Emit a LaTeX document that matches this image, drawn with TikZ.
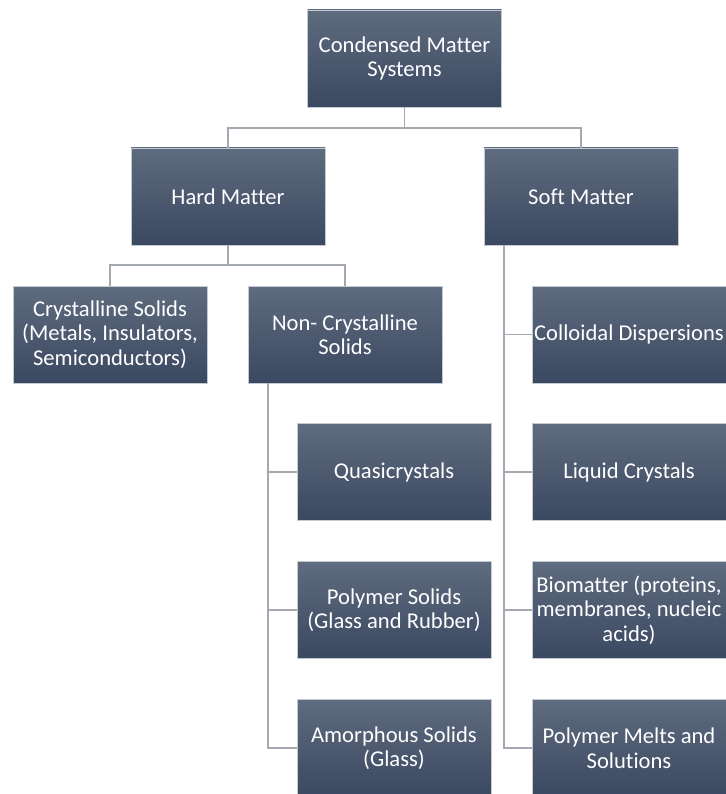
\documentclass[tikz,border=0pt]{standalone}
\usepackage{fontspec}
\setmainfont{Carlito}[Ligatures={NoCommon}]
\definecolor{boxtop}{HTML}{5F6B7E}
\definecolor{boxbot}{HTML}{3A4861}
\definecolor{boxedge}{HTML}{C5CAD2}
\definecolor{conn}{HTML}{A3A8B1}
\begin{document}
\begin{tikzpicture}[x=1pt,y=-1pt,
  cbox/.style={rectangle, minimum width=194pt, minimum height=97pt, inner sep=1pt,
    top color=boxtop, bottom color=boxbot, draw=boxedge, line width=0.6pt,
    text=white, align=center, font=\fontsize{22.6}{24.5}\selectfont},
  link/.style={draw=conn, line width=1.6pt}]
\useasboundingbox (0,0) rectangle (725,794);
\node[cbox] (top) at (404.5,58.5) {Condensed Matter\\Systems};
\node[cbox] (hard) at (228,196.5) {Hard Matter};
\node[cbox] (soft) at (581,196.5) {Soft Matter};
\node[cbox] (cry) at (110,334.5) {Crystalline Solids\\(Metals, Insulators,\\Semiconductors)};
\node[cbox] (non) at (345,334.5) {Non- Crystalline\\Solids};
\node[cbox] (qua) at (394,472) {Quasicrystals};
\node[cbox] (pol) at (394,610) {Polymer Solids\\(Glass and Rubber)};
\node[cbox] (amo) at (394,748) {Amorphous Solids\\(Glass)};
\node[cbox] (col) at (629,334.5) {Colloidal Dispersions};
\node[cbox] (liq) at (629,472) {Liquid Crystals};
\node[cbox] (bio) at (629,610) {Biomatter (proteins,\\membranes, nucleic\\acids)};
\node[cbox] (mel) at (629,748) {Polymer Melts and\\Solutions};
\coordinate (j1) at (404.5,128);
\coordinate (j2) at (228,265);
\coordinate (nx) at (268,383);
\coordinate (sx) at (504,245);
\draw[link] (top.south) -- (j1);
\draw[link] (j1) -| (hard.north);
\draw[link] (j1) -| (soft.north);
\draw[link] (hard.south) -- (j2);
\draw[link] (j2) -| (cry.north);
\draw[link] (j2) -| (non.north);
\draw[link] (nx) |- (qua.west);
\draw[link] (nx) |- (pol.west);
\draw[link] (nx) |- (amo.west);
\draw[link] (sx) |- (col.west);
\draw[link] (sx) |- (liq.west);
\draw[link] (sx) |- (bio.west);
\draw[link] (sx) |- (mel.west);
\end{tikzpicture}
\end{document}
